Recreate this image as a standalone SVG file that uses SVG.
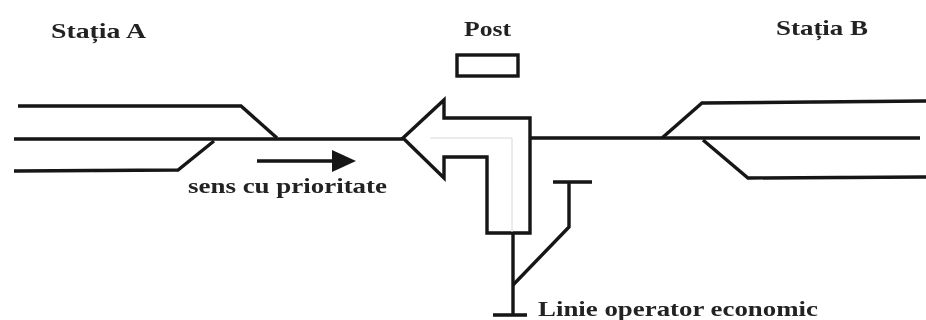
<svg xmlns="http://www.w3.org/2000/svg" width="926" height="320" viewBox="0 0 926 320">
<style>
.l{fill:none;stroke:#161616;stroke-width:3.4;stroke-linejoin:miter}
.f{fill:none;stroke:#d8d8d8;stroke-width:1}
text{font-family:"Liberation Serif","Times New Roman",serif;font-weight:700;fill:#242424;font-size:22px}
</style>
<defs><filter id="b" x="-5%" y="-5%" width="110%" height="110%"><feGaussianBlur stdDeviation="0.55"/></filter></defs>
<rect width="926" height="320" fill="#fff"/>
<g filter="url(#b)">
<g id="connectors">
<path class="l" d="M18 106H241L277 138"/>
<path class="l" d="M14 139H403"/>
<path class="l" d="M14 171L178 170L214 141"/>
<path class="l" d="M530 138H920"/>
<path class="l" d="M662 138L702 103L926 101"/>
<path class="l" d="M703 140L748 178L926 177"/>
<path class="l" d="M513 233V315"/>
<path class="l" d="M493 315H527"/>
<path class="l" d="M513 285L569 227V182"/>
<path class="l" d="M553 182H592"/>
<path class="l" d="M257 161H334"/>
<path d="M332 150L356 161L332 172Z" fill="#161616"/>
</g>
<g id="post"><rect class="l" x="457" y="55" width="61" height="21"/><text x="464" y="36" textLength="47" lengthAdjust="spacingAndGlyphs">Post</text></g>
<g id="signal">
<path class="l" d="M403 138L444 100V118H530V233H487V157H444V178Z"/>
<path class="f" d="M430 138H512V232"/>
</g>
<g id="statia-a"><text x="51" y="38" textLength="95" lengthAdjust="spacingAndGlyphs">Stația A</text></g>
<g id="statia-b"><text x="776" y="35" textLength="92" lengthAdjust="spacingAndGlyphs">Stația B</text></g>
<g id="sens"><text x="188" y="193" textLength="199" lengthAdjust="spacingAndGlyphs">sens cu prioritate</text></g>
<g id="linie"><text x="538" y="316" textLength="280" lengthAdjust="spacingAndGlyphs">Linie operator economic</text></g>
</g>
</svg>
